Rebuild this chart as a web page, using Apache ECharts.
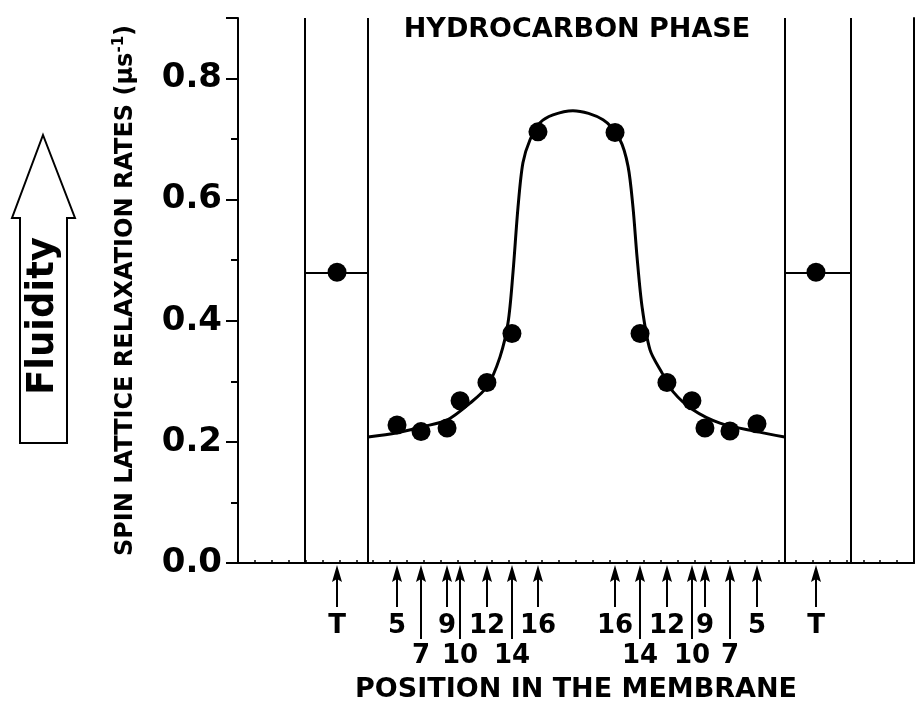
<!DOCTYPE html>
<html><head><meta charset="utf-8">
<script src="https://cdn.jsdelivr.net/npm/echarts@6/dist/echarts.min.js"></script>
<style>html,body{margin:0;padding:0;background:#fff}#c{width:916px;height:702px}</style>
</head><body><div id="c"></div>
<script>
// ---- data ----
const positionLabels = ['T','5','7','9','10','12','14','16','16','14','12','10','9','7','5','T'];
const positionX = [5.86, 9.41, 10.83, 12.37, 13.14, 14.73, 16.21, 17.75, 22.31, 23.79, 25.38, 26.86, 27.63, 29.11, 30.71, 34.2];
const labelRow = [1,1,2,1,2,1,2,1,1,2,1,2,1,2,1,1];
const rateValues = [0.48, 0.228, 0.217, 0.223, 0.268, 0.298, 0.379, 0.712, 0.711, 0.379, 0.298, 0.268, 0.223, 0.218, 0.230, 0.48];
const fitX = [7.69, 9.41, 10.89, 12.37, 13.73, 14.73, 15.50, 15.98, 16.27, 16.57, 16.86, 17.28, 17.87, 18.64, 19.82, 21.60, 22.60, 23.08, 23.37, 23.61, 23.91, 24.38, 25.09, 25.74, 26.92, 28.52, 30.71, 32.35];
const fitY = [0.208, 0.215, 0.225, 0.236, 0.264, 0.291, 0.340, 0.397, 0.479, 0.588, 0.661, 0.699, 0.727, 0.740, 0.747, 0.732, 0.699, 0.655, 0.588, 0.506, 0.423, 0.352, 0.314, 0.283, 0.253, 0.231, 0.217, 0.208];
const boundaryX = [3.96, 7.69, 32.35, 36.25];
const terminalSegments = [[3.96, 7.69], [32.35, 36.25]];
const terminalRate = 0.48;

const FONT = '"DejaVu Sans", Verdana, sans-serif';
const chart = echarts.init(document.getElementById('c'), null, {renderer: 'canvas'});

const markData = boundaryX.map(x => ({xAxis: x}))
  .concat(terminalSegments.map(s => [{coord: [s[0], terminalRate]}, {coord: [s[1], terminalRate]}]));

chart.setOption({
  animation: false,
  backgroundColor: '#fff',
  grid: {left: 238, right: 2, top: 18, bottom: 139, containLabel: false, outerBoundsMode: 'none'},
  xAxis: {
    type: 'value', min: 0, max: 40, interval: 1,
    axisLine: {show: true, onZero: false, lineStyle: {color: '#000', width: 2}},
    axisTick: {show: true, inside: true, length: 3, lineStyle: {color: '#000', width: 1.5}},
    axisLabel: {show: false},
    splitLine: {show: false},
    name: 'POSITION IN THE MEMBRANE', nameLocation: 'middle', nameGap: 113,
    nameTextStyle: {fontFamily: FONT, fontWeight: 'bold', fontSize: 27, color: '#000'}
  },
  yAxis: [{
    type: 'value', min: 0, max: 0.9, interval: 0.2,
    axisLine: {show: true, lineStyle: {color: '#000', width: 2}},
    axisTick: {show: true, length: 12, lineStyle: {color: '#000', width: 2}},
    minorTick: {show: true, splitNumber: 2, length: 7, lineStyle: {color: '#000', width: 2}},
    axisLabel: {margin: 16, fontFamily: FONT, fontWeight: 'bold', fontSize: 34, color: '#000',
      showMaxLabel: false,
      formatter: v => (v > 0.85 ? '' : v.toFixed(1))},
    splitLine: {show: false},
    name: '{a|SPIN LATTICE RELAXATION RATES (μs}{b|-1}{a|)}',
    nameLocation: 'middle', nameGap: 98,
    nameTextStyle: {
      rich: {
        a: {fontFamily: FONT, fontWeight: 'bold', fontSize: 24, color: '#000', lineHeight: 28},
        b: {fontFamily: FONT, fontWeight: 'bold', fontSize: 15, color: '#000', lineHeight: 28, verticalAlign: 'top'}
      }
    }
  }, {
    type: 'value', min: 0, max: 0.9, position: 'right',
    axisLine: {show: true, lineStyle: {color: '#000', width: 2}},
    axisTick: {show: false}, axisLabel: {show: false}, splitLine: {show: false}
  }],
  graphic: [
    {type: 'polygon', shape: {points: [[43,135],[75,218],[67,218],[67,443],[20,443],[20,218],[12,218]]},
     style: {fill: '#fff', stroke: '#000', lineWidth: 2}},
    {type: 'text', x: 43, y: 316, rotation: Math.PI / 2,
     style: {text: 'Fluidity', font: 'bold 37px ' + FONT, fill: '#000', align: 'center', verticalAlign: 'middle'}},
    {type: 'text', x: 577, y: 30,
     style: {text: 'HYDROCARBON PHASE', font: 'bold 27px ' + FONT, fill: '#000', align: 'center', verticalAlign: 'middle'}}
  ],
  series: [
    {
      type: 'line', data: fitX.map((x, i) => [x, fitY[i]]),
      smooth: 0.3, showSymbol: false, symbol: 'none',
      lineStyle: {color: '#000', width: 3}, z: 3,
      markLine: {silent: true, symbol: ['none', 'none'], label: {show: false},
        lineStyle: {color: '#000', width: 2, type: 'solid'}, data: markData}
    },
    {
      type: 'scatter', data: positionX.map((x, i) => [x, rateValues[i]]),
      symbol: 'circle', symbolSize: 19, itemStyle: {color: '#000', opacity: 1}, z: 4
    },
    {
      type: 'custom', clip: false, z: 5,
      data: positionX.map((x, i) => [x, 0, labelRow[i]]),
      encode: {x: 0, y: 1},
      renderItem: function (params, api) {
        const i = params.dataIndex;
        const p = api.coord([api.value(0), 0]);
        const x = Math.round(p[0]);
        const y0 = p[1] + 2;
        const row = api.value(2);
        const len = row === 1 ? 42 : 74;
        const ty = row === 1 ? 61 : 91;
        return {type: 'group', children: [
          {type: 'line', shape: {x1: x, y1: y0 + 12, x2: x, y2: y0 + len}, style: {stroke: '#000', lineWidth: 2}},
          {type: 'polygon', shape: {points: [[x, y0], [x - 5, y0 + 17], [x, y0 + 14], [x + 5, y0 + 17]]}, style: {fill: '#000'}},
          {type: 'text', style: {text: positionLabels[i], x: x, y: y0 + ty, align: 'center', verticalAlign: 'middle',
            font: 'bold 26px ' + FONT, fill: '#000'}}
        ]};
      }
    }
  ]
});
</script>
</body></html>
